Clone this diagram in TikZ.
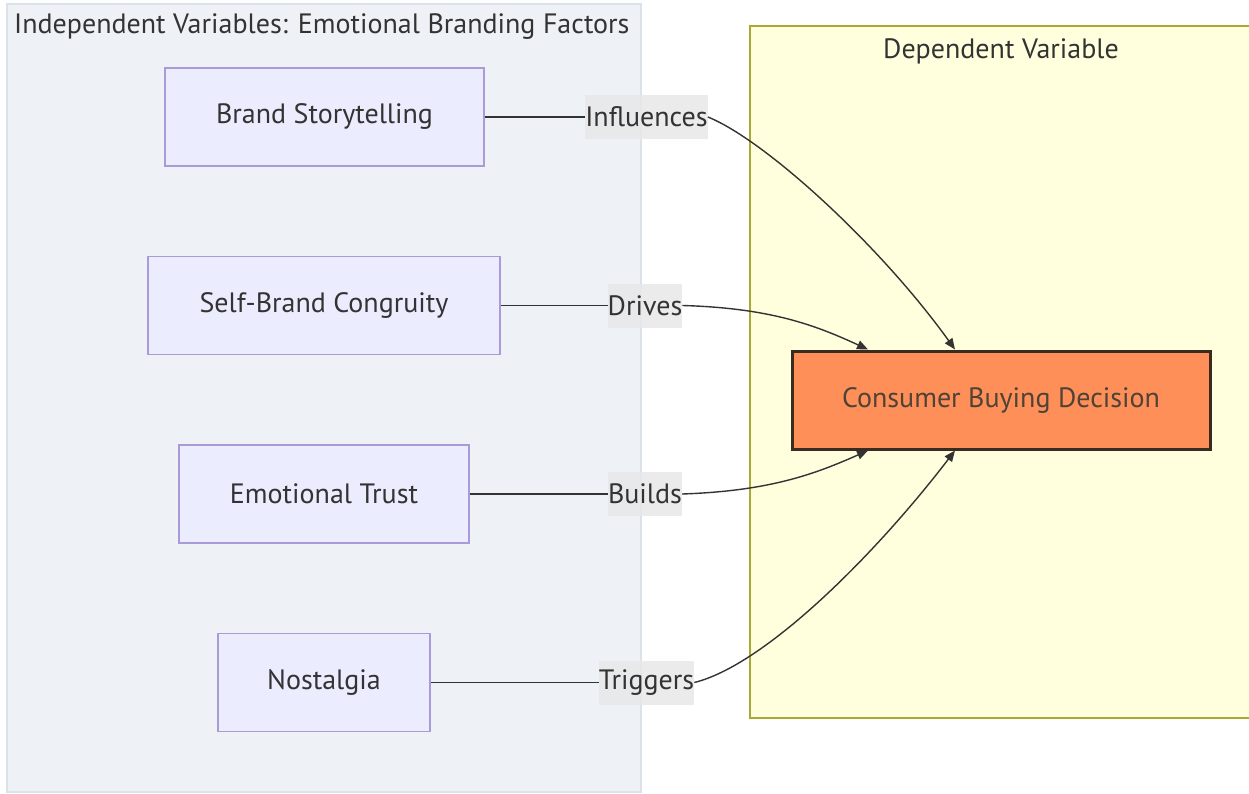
\documentclass[tikz,border=0pt]{standalone}
\usepackage{fontspec}
\setmainfont{PT Sans}
\usetikzlibrary{calc,arrows.meta}

\definecolor{clusterblue}{HTML}{EEF2F7}
\definecolor{clusterblueline}{HTML}{DCE2EA}
\definecolor{clusteryellow}{HTML}{FFFFDE}
\definecolor{clusteryellowline}{HTML}{AAAA33}
\definecolor{nodefill}{HTML}{ECECFF}
\definecolor{nodeline}{HTML}{A99BD8}
\definecolor{decisionfill}{HTML}{FF8F58}
\definecolor{decisionline}{HTML}{3A2A20}
\definecolor{textgray}{HTML}{333333}
\definecolor{edgegray}{HTML}{333333}
\definecolor{labelbg}{HTML}{E8E8E8}

\tikzset{
  factor/.style={draw=nodeline, fill=nodefill, line width=1.5pt, minimum height=98pt,
    text=textgray, font=\fontsize{28}{32}\selectfont, inner sep=0pt},
  decision/.style={draw=decisionline, fill=decisionfill, line width=3pt,
    minimum width=418pt, minimum height=98pt, text=textgray!80!brown,
    font=\fontsize{28}{32}\selectfont},
  edgelabel/.style={fill=labelbg, fill opacity=0.85, text opacity=1, text=textgray,
    inner xsep=0pt, minimum height=44pt, font=\fontsize{28}{32}\selectfont},
  link/.style={draw=edgegray, line width=1.4pt},
  arrowlink/.style={link, -{Triangle[length=11pt,width=9pt]}},
  clustertitle/.style={text=textgray, font=\fontsize{28}{32}\selectfont, inner sep=0pt},
}

\begin{document}
\begin{tikzpicture}[x=1pt,y=-1pt]
  \useasboundingbox (0,0) rectangle (1249,794);
  \fill[white] (0,0) rectangle (1249,794);

  % clusters
  \draw[fill=clusterblue, draw=clusterblueline, line width=1.2pt] (7,4) rectangle (641,792);
  \node[clustertitle, anchor=west] (indtitle) at (14,27) {Independent Variables: Emotional Branding Factors};
  \draw[fill=clusteryellow, draw=clusteryellowline, line width=1.2pt] (750,26) rectangle (1252,718);
  \node[clustertitle] (deptitle) at (1001,51) {Dependent Variable};

  % factor nodes
  \node[factor, minimum width=319pt] (bs) at (324.5,117) {Brand Storytelling};
  \node[factor, minimum width=352pt] (sbc) at (324,305.5) {Self-Brand Congruity};
  \node[factor, minimum width=290pt] (et) at (324,494) {Emotional Trust};
  \node[factor, minimum width=212pt] (nos) at (324,682.5) {Nostalgia};

  % outcome node
  \node[decision] (cbd) at (1001,400) {Consumer Buying Decision};
  \coordinate (cbdtl) at ($(cbd.north)+(-133,0)$);
  \coordinate (cbdtr) at ($(cbd.north)+(-46,0)$);
  \coordinate (cbdbl) at ($(cbd.south)+(-133,0)$);
  \coordinate (cbdbr) at ($(cbd.south)+(-46,0)$);

  % edge labels
  \node[edgelabel] (l1) at (646.5,117) {Influences};
  \node[edgelabel] (l2) at (645,305.5) {Drives};
  \node[edgelabel] (l3) at (645,494) {Builds};
  \node[edgelabel] (l4) at (646.5,682.5) {Triggers};

  % connectors
  \draw[link] (bs.east) -- (l1.west);
  \draw[arrowlink] (l1.east) .. controls (765,140) and (880,245) .. (cbdtr);
  \draw[link] (sbc.east) -- (l2.west);
  \draw[arrowlink] (l2.east) .. controls (770,308) and (815,325) .. (cbdtl);
  \draw[link] (et.east) -- (l3.west);
  \draw[arrowlink] (l3.east) .. controls (770,491) and (815,474) .. (cbdbl);
  \draw[link] (nos.east) -- (l4.west);
  \draw[arrowlink] (l4.east) .. controls (765,665) and (875,555) .. (cbdbr);
\end{tikzpicture}
\end{document}
